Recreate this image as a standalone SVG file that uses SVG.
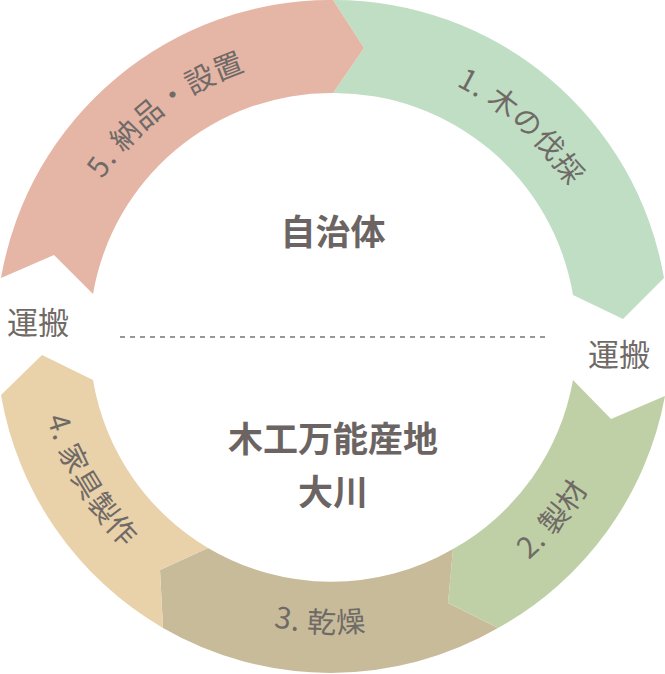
<svg xmlns="http://www.w3.org/2000/svg" width="665" height="674" viewBox="0 0 665 674">
<style>
.lbl{font-family:"Noto Sans CJK JP","Noto Sans",sans-serif;font-size:29px;fill:#6f6a66;letter-spacing:1px}
.side{font-family:"Noto Sans CJK JP","Noto Sans",sans-serif;font-size:31px;fill:#6f6a66}
.ctr{font-family:"Noto Sans CJK JP","Noto Sans",sans-serif;font-size:35px;font-weight:bold;fill:#6b6462;text-anchor:middle}
</style>
<defs>
<path id="cw" d="M611,335 A278,278 0 1 1 55,335 A278,278 0 1 1 611,335"/>
<path id="ccw" d="M631,335 A298,298 0 1 0 35,335 A298,298 0 1 0 631,335"/>
</defs>
<rect width="665" height="674" fill="#fff"/>
<g id="seg1"><path fill="#bfdec4" d="M333,0 A335,335 0 0 1 664,278 L623,319 L573,295 A242,242 0 0 0 333,93 L364,48 Z"/>
<text class="lbl" text-anchor="middle"><textPath href="#cw" startOffset="86.7%">1. 木の伐採</textPath></text></g>
<g id="seg2"><path fill="#c0d0a6" d="M665,396 A335,335 0 0 1 498,628 L448,603 L453,549 A242,242 0 0 0 573,380 L611,419 Z"/>
<text class="lbl" text-anchor="middle"><textPath href="#ccw" startOffset="88.9%">2. 製材</textPath></text></g>
<g id="seg3"><path fill="#c8bb9a" d="M498,628 L448,603 L453,549 A242,242 0 0 1 208,548 L160,570 L163,628 A335,335 0 0 0 498,628 Z"/>
<text class="lbl" text-anchor="middle"><textPath href="#ccw" startOffset="74.3%">3. 乾燥</textPath></text></g>
<g id="seg4"><path fill="#e9d1aa" d="M163,628 A335,335 0 0 1 1,395 L42,355 L93,380 A242,242 0 0 0 208,548 L160,570 Z"/>
<text class="lbl" text-anchor="middle"><textPath href="#ccw" startOffset="58.6%">4. 家具製作</textPath></text></g>
<g id="seg5"><path fill="#e5b5a6" d="M1,278 A335,335 0 0 1 333,0 L364,48 L333,93 A242,242 0 0 0 93,294 L54,255 Z"/>
<text class="lbl" text-anchor="middle"><textPath href="#cw" startOffset="64.7%">5. 納品・設置</textPath></text></g>
<g id="connectors"><line x1="120" y1="337" x2="545" y2="337" stroke="#777" stroke-width="1.5" stroke-dasharray="5,5"/></g>
<g id="labels">
<text class="side" x="7" y="334">運搬</text>
<text class="side" x="588" y="366">運搬</text>
<text class="ctr" x="333" y="245">自治体</text>
<text class="ctr" x="333" y="452">木工万能産地</text>
<text class="ctr" x="333" y="505">大川</text>
</g>
</svg>
